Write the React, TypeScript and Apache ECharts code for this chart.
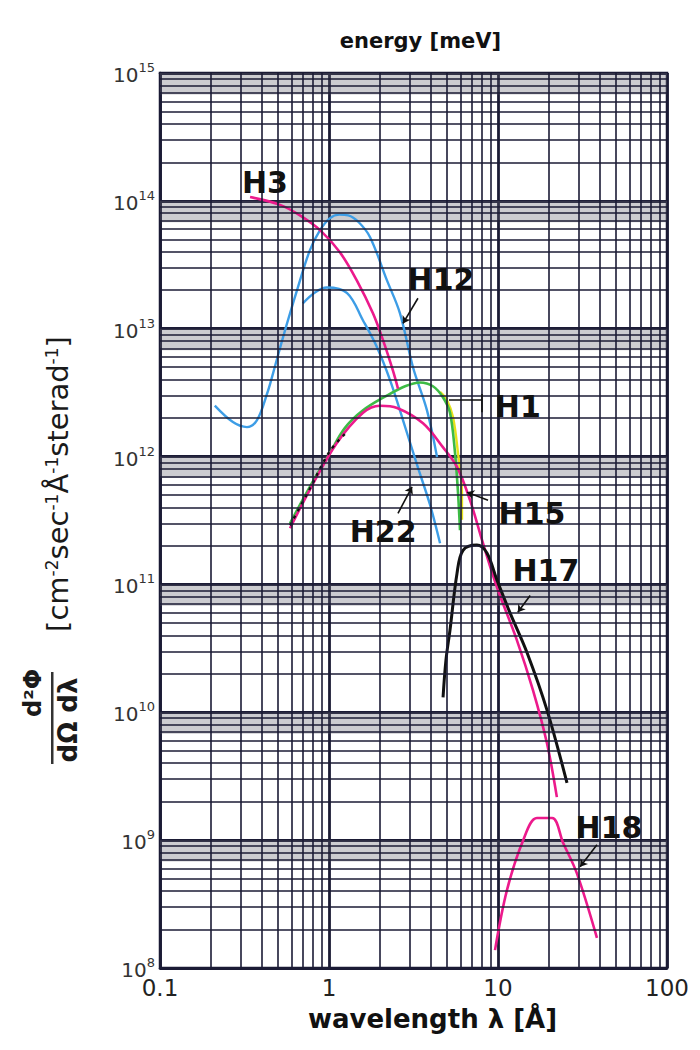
import React, { useEffect, useRef } from 'react';
import * as echarts from 'echarts';

// wavelength [Å] / flux values
const h3Wl = [0.341, 0.513, 0.673, 0.885, 1.16, 1.46, 1.82, 2.09, 2.39, 2.56];
const h3Flux = [1.07e14, 9.3e13, 7.7e13, 5.9e13, 3.96e13, 2.39e13, 1.32e13, 8.1e12, 4.7e12, 3.4e12];

const h12Wl = [0.211, 0.27, 0.327, 0.375, 0.43, 0.467, 0.535, 0.647, 0.77, 0.885, 1.01, 1.15, 1.3, 1.5, 1.75, 2.2, 2.63, 3.14, 3.8, 4.36];
const h12Flux = [2.5e12, 1.86e12, 1.7e12, 1.93e12, 3.1e12, 4.5e12, 8.6e12, 2.0e13, 4.1e13, 5.9e13, 7.3e13, 7.8e13, 7.7e13, 6.8e13, 5.2e13, 2.4e13, 1.32e13, 5.0e12, 2.3e12, 9.9e11];

const h22Wl = [0.70, 0.83, 0.97, 1.28, 1.59, 1.92, 2.3, 2.74, 3.32, 3.96, 4.54];
const h22Flux = [1.58e13, 1.93e13, 2.1e13, 1.9e13, 1.16e13, 7.2e12, 3.95e12, 1.93e12, 8.6e11, 4.2e11, 2.1e11];

const h1Wl = [0.588, 0.77, 1.01, 1.24, 1.59, 2.2, 2.82, 3.45, 4.12, 4.73, 5.2, 5.57, 5.8, 5.96];
const h1Flux = [3.0e11, 5.8e11, 1.06e12, 1.67e12, 2.3e12, 3.0e12, 3.55e12, 3.8e12, 3.55e12, 2.9e12, 2.2e12, 1.06e12, 5.2e11, 2.65e11];

const h1bWl = [4.54, 4.99, 5.42, 5.8, 6.12, 6.12];
const h1bFlux = [3.2e12, 2.76e12, 2.03e12, 1.06e12, 5.2e11, 3.2e11];

const h15Wl = [0.588, 0.77, 1.11, 1.59, 2.0, 2.53, 3.6, 4.73, 5.72, 6.83, 8.15, 9.86, 12.9, 16.1, 19.5, 22.3];
const h15Flux = [2.75e11, 5.5e11, 1.27e12, 2.2e12, 2.5e12, 2.4e12, 1.82e12, 1.18e12, 8.3e11, 4.56e11, 2.1e11, 9.5e10, 3.7e10, 1.49e10, 5.7e9, 2.17e9];

const overlapWl = [0.588, 0.77, 1.01, 1.24];
const overlapFlux = [2.9e11, 5.6e11, 1.1e12, 1.5e12];

const h17Wl = [4.73, 4.92, 5.2, 5.72, 6.21, 7.5, 8.6, 9.86, 11.8, 14.9, 19.5, 25.6];
const h17Flux = [1.31e10, 2.56e10, 4.4e10, 1.22e11, 1.85e11, 2.03e11, 1.76e11, 1.08e11, 5.97e10, 2.9e10, 1.04e10, 2.8e9];

const h18Wl = [9.6, 11.3, 14.1, 17.0, 20.9, 24.3, 29.3, 38.5];
const h18Flux = [1.38e8, 4.07e8, 1.0e9, 1.49e9, 1.49e9, 9.5e8, 5.5e8, 1.72e8];

// curve labels (name, wavelength, flux)
const labelNames = ['H3', 'H12', 'H1', 'H15', 'H22', 'H17', 'H18'];
const labelWl = [0.418, 4.6, 13.1, 15.9, 2.09, 19.2, 45.4];
const labelFlux = [1.4e14, 2.44e13, 2.48e12, 3.6e11, 2.6e11, 1.29e11, 1.26e9];

// leader lines [fromWl, fromFlux, toWl, toFlux, arrowAtEnd]
const leaders: [number, number, number, number, boolean][] = [
  [3.36, 1.73e13, 2.74, 1.1e13, true],
  [2.56, 3.6e11, 3.1, 5.8e11, true],
  [8.73, 4.56e11, 6.56, 5.27e11, true],
  [15.5, 8.2e10, 13.1, 6.07e10, true],
  [38.5, 9.2e8, 30.6, 6.2e8, true],
  [5.13, 2.76e12, 8.04, 2.76e12, false],
  [8.04, 3.08e12, 8.04, 2.22e12, false],
];

const xDecades = [0.1, 1, 10];
const yDecades = [1e8, 1e9, 1e10, 1e11, 1e12, 1e13, 1e14];
const minorSteps = [2, 3, 4, 5, 6, 7, 8, 9];

const GRID = '#1b1b35';
const PINK = '#ec1a8c';
const BLUE = '#3d9de6';
const GREEN = '#3dbb45';
const YELLOW = '#e6e21a';
const FONT = 'DejaVu Sans';

const pairs = (xs: number[], ys: number[]) => xs.map((x, i) => [x, ys[i]]);

function curve(name: string, xs: number[], ys: number[], color: string, width = 2.6, extra: any = {}) {
  return {
    name,
    type: 'line',
    data: pairs(xs, ys),
    smooth: 0.35,
    showSymbol: false,
    symbol: 'none',
    z: 3,
    lineStyle: { color, width, ...extra },
  };
}

export default function App() {
  const ref = useRef<HTMLDivElement>(null);
  useEffect(() => {
    if (!ref.current) return;
    const chart = echarts.init(ref.current, undefined, { renderer: 'svg' });

    const xMinor: number[] = [];
    xDecades.forEach((d) => minorSteps.forEach((k) => xMinor.push(k * d)));
    const yMinor: number[] = [];
    yDecades.forEach((d) => minorSteps.forEach((k) => yMinor.push(k * d)));
    const bands = [...yDecades.slice(1), 1e15].map((d) => [{ yAxis: d * 0.68 }, { yAxis: d }]);

    const option: any = {
      animation: false,
      backgroundColor: '#ffffff',
      grid: {
        left: 160,
        right: 33,
        top: 73,
        bottom: 82,
        show: true,
        borderColor: GRID,
        borderWidth: 2.5,
        backgroundColor: 'transparent',
      },
      xAxis: [
        {
          type: 'log',
          logBase: 10,
          min: 0.1,
          max: 100,
          position: 'bottom',
          axisLine: { show: true, lineStyle: { color: GRID, width: 2.5 } },
          axisTick: { show: false },
          splitLine: { show: true, lineStyle: { color: GRID, width: 2.8 } },
          axisLabel: {
            color: '#222',
            fontSize: 23,
            fontFamily: FONT,
            margin: 8,
            formatter: (v: number) => {
              const e = Math.round(Math.log10(v));
              return e < 0 ? '0.1' : String(Math.pow(10, e));
            },
          },
          name: 'wavelength λ [Å]',
          nameLocation: 'middle',
          nameGap: 38,
          nameTextStyle: {
            color: '#111',
            fontSize: 26,
            fontWeight: 'bold',
            fontFamily: FONT,
            padding: [0, 0, 0, 38],
          },
        },
        {
          type: 'log',
          logBase: 10,
          min: 0.1,
          max: 100,
          position: 'top',
          axisLine: { show: true, lineStyle: { color: GRID, width: 2.5 } },
          axisTick: { show: false },
          axisLabel: { show: false },
          splitLine: { show: false },
          name: 'energy [meV]',
          nameLocation: 'middle',
          nameGap: 22,
          nameTextStyle: {
            color: '#111',
            fontSize: 21,
            fontWeight: 'bold',
            fontFamily: FONT,
            padding: [0, 0, 0, 14],
          },
        },
      ],
      yAxis: {
        type: 'log',
        logBase: 10,
        min: 1e8,
        max: 1e15,
        axisLine: { show: true, lineStyle: { color: GRID, width: 2.5 } },
        axisTick: { show: false },
        splitLine: { show: true, lineStyle: { color: GRID, width: 2.8 } },
        axisLabel: {
          margin: 5,
          color: '#333',
          fontFamily: FONT,
          formatter: (v: number) => '{b|10}{s|' + Math.round(Math.log10(v)) + '}',
          rich: {
            b: { fontSize: 20, fontFamily: FONT, color: '#333', verticalAlign: 'bottom' },
            s: { fontSize: 13, fontFamily: FONT, color: '#333', verticalAlign: 'bottom', padding: [0, 0, 11, 0] },
          },
        },
      },
      graphic: [
        {
          type: 'text',
          x: 58,
          y: 484,
          rotation: Math.PI / 2,
          style: {
            text: '[cm{s|-2}sec{s|-1}Å{s|-1}sterad{s|-1}]',
            fontSize: 29,
            fontFamily: FONT,
            fill: '#1a1a1a',
            align: 'center',
            verticalAlign: 'middle',
            rich: {
              s: { fontSize: 17, fontFamily: FONT, fill: '#1a1a1a', padding: [0, 0, 13, 0], verticalAlign: 'bottom' },
            },
          },
        },
        {
          type: 'text',
          x: 33,
          y: 693,
          rotation: Math.PI / 2,
          style: {
            text: 'd²Φ',
            fontSize: 24,
            fontWeight: 'bold',
            fontFamily: FONT,
            fill: '#1a1a1a',
            align: 'center',
            verticalAlign: 'middle',
          },
        },
        {
          type: 'rect',
          shape: { x: 51, y: 672, width: 2.5, height: 92 },
          style: { fill: '#333' },
        },
        {
          type: 'text',
          x: 68,
          y: 720,
          rotation: Math.PI / 2,
          style: {
            text: 'dΩ dλ',
            fontSize: 26,
            fontWeight: 'bold',
            fontFamily: FONT,
            fill: '#1a1a1a',
            align: 'center',
            verticalAlign: 'middle',
          },
        },
      ],
      series: [
        {
          name: 'grid',
          type: 'line',
          data: [[1, 1e10]],
          symbol: 'none',
          lineStyle: { opacity: 0 },
          z: 1,
          silent: true,
          markArea: {
            silent: true,
            itemStyle: { color: 'rgba(100,100,112,0.33)' },
            data: bands,
          },
          markLine: {
            silent: true,
            symbol: ['none', 'none'],
            label: { show: false },
            lineStyle: { color: GRID, width: 1.6, type: 'solid' },
            data: [...xMinor.map((v) => ({ xAxis: v })), ...yMinor.map((v) => ({ yAxis: v }))],
          },
        },
        curve('H12', h12Wl, h12Flux, BLUE, 2.4),
        curve('H22', h22Wl, h22Flux, BLUE, 2.4),
        curve('H1b', h1bWl, h1bFlux, YELLOW, 2.4),
        curve('H1', h1Wl, h1Flux, GREEN, 2.6),
        curve('H15', h15Wl, h15Flux, PINK, 2.6),
        curve('H3', h3Wl, h3Flux, PINK, 2.6),
        curve('overlap', overlapWl, overlapFlux, '#111', 2.4, { type: [3, 5] }),
        curve('H17', h17Wl, h17Flux, '#111', 3),
        curve('H18', h18Wl, h18Flux, PINK, 2.6),
        {
          name: 'annotations',
          type: 'line',
          data: [[1, 1e10]],
          symbol: 'none',
          lineStyle: { opacity: 0 },
          z: 5,
          markPoint: {
            silent: true,
            symbol: 'circle',
            symbolSize: 0,
            label: {
              show: true,
              position: 'inside',
              formatter: '{b}',
              fontSize: 30,
              fontWeight: 'bold',
              fontFamily: FONT,
              color: '#111',
            },
            data: labelNames.map((n, i) => ({ name: n, coord: [labelWl[i], labelFlux[i]] })),
          },
          markLine: {
            silent: true,
            symbolSize: 7,
            label: { show: false },
            lineStyle: { color: '#111', width: 1.6, type: 'solid' },
            data: leaders.map(([x1, y1, x2, y2, arrow]) => [
              { coord: [x1, y1], symbol: 'none' },
              { coord: [x2, y2], symbol: arrow ? 'arrow' : 'none' },
            ]),
          },
        },
      ],
    };
    chart.setOption(option);
    return () => chart.dispose();
  }, []);
  return (
    <div
      ref={ref}
      style={{ position: 'absolute', left: 0, top: 0, width: 700, height: 1050, background: '#fff' }}
    />
  );
}
